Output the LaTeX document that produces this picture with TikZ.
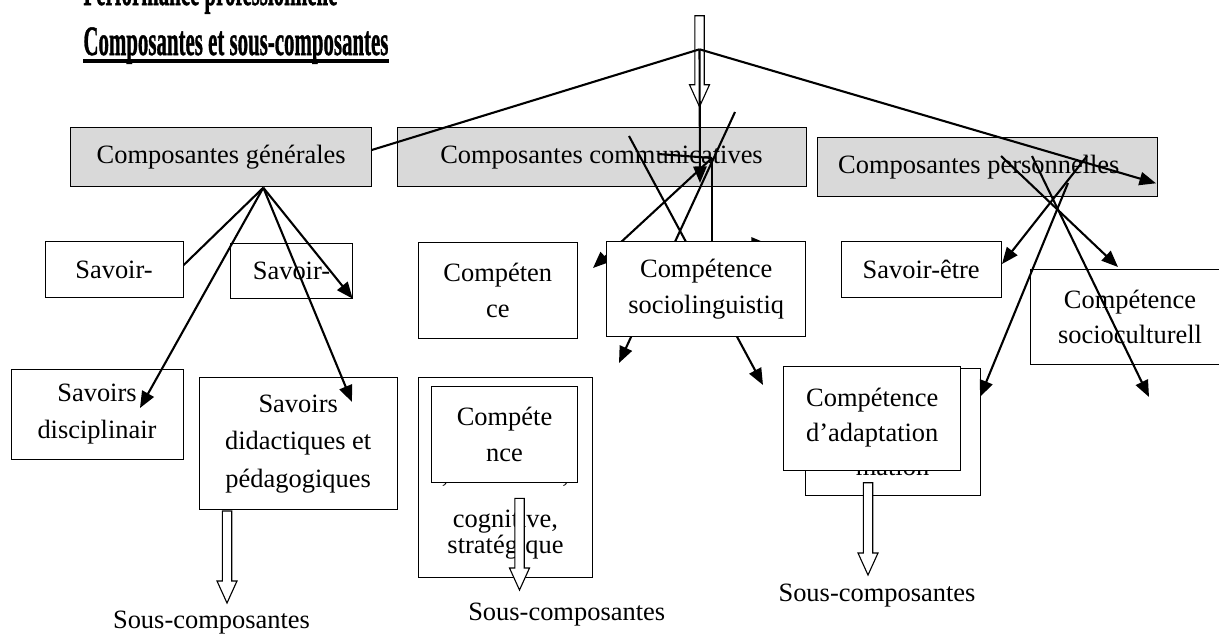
\documentclass[tikz,border=0pt]{standalone}
\usepackage{fontspec}
\setmainfont{Liberation Serif}
\newfontfamily\headfont{Liberation Serif}[FakeBold=1.2]
\usetikzlibrary{arrows.meta, calc}
\newdimen\px \px=0.4537pt
% hollow block arrow from #1 down to tip #2
\newcommand{\hollow}[2]{%
  \draw[hol] ($(#1)+(-4.7,0)$) -- ($(#1)+(4.7,0)$) -- ($(#2)+(4.7,-22)$)
    -- ($(#2)+(10,-22)$) -- (#2) -- ($(#2)+(-10,-22)$)
    -- ($(#2)+(-4.7,-22)$) -- cycle;}

\begin{document}
\begin{tikzpicture}[x=0.4537pt, y=-0.4537pt,
  gbox/.style={draw, fill=gray!30, line width=0.45pt, inner sep=0pt,
    font=\fontsize{12}{16}\selectfont},
  wbox/.style={draw, fill=white, line width=0.45pt, inner sep=0pt,
    align=center, font=\fontsize{12}{16}\selectfont},
  ttl/.style={font=\fontsize{19}{22}\selectfont\headfont\bfseries, anchor=base west,
    inner sep=0pt},
  lbl/.style={font=\fontsize{12}{14}\selectfont, inner sep=0pt, anchor=base},
  arr/.style={-{Triangle[length=7.5pt, width=6pt]}, line width=0.95pt},
  ln/.style={line width=0.95pt},
  hol/.style={draw, fill=white, line width=0.5pt}
]
\useasboundingbox (0,0) rectangle (1219,635);
\clip (0,0) rectangle (1219,635);
% Title
\node[ttl] (perf) at (83,5)
  {\resizebox{254\px}{\height}{Performance professionnelle}};
\node[ttl] (head) at (83,55)
  {\resizebox{305\px}{\height}{Composantes et sous-composantes}};
\draw[line width=1.8pt] ([yshift=-2.8pt]head.base west) -- ([yshift=-2.8pt]head.base east);
% Main components
\node[gbox, minimum width=301*\px, minimum height=59*\px] (gen) at (221.2,157.2)
  {Composantes générales};
\node[gbox, minimum width=409*\px, minimum height=59*\px] (comm) at (601.5,157.2)
  {Composantes communicatives};
\node[gbox, minimum width=340*\px, minimum height=59*\px] (pers) at (987.3,167.2)
  {Composantes personnelles\hspace*{17\px}};
% Free ends
\coordinate (top) at (699.5,49.3);
\coordinate (gfan) at (263.3,187.7);
\coordinate (genE) at (371.7,150);
\coordinate (persE) at (1156,183.3);
\coordinate (commT) at (700,183);
\coordinate (s1in) at (160,288);
\coordinate (cA) at (658,154);
\coordinate (cB) at (712,158);
\coordinate (cC) at (735,112);
\coordinate (cD) at (629,136);
\coordinate (cptR) at (593,268);
\coordinate (slL) at (619,363);
\coordinate (slR) at (763,385);
\coordinate (slE) at (768,244);
% Links running behind the boxes
\draw[arr] (gfan) -- (s1in);
\draw[ln] (cA) -- (cB);
\draw[arr] (cB) -- (cptR);
\draw[arr] (cC) -- (slL);
\draw[arr] (cD) -- (slR);
\draw[arr] (cB) |- (slE);
% Sub-components
\node[wbox, minimum width=138*\px, minimum height=55.6*\px] (sav1) at (114,269.5) {Savoir-};
\node[wbox, minimum width=122.4*\px, minimum height=55.4*\px] (sav2) at (291.5,271) {Savoir-};
\node[wbox, minimum width=172*\px, minimum height=90*\px,
  font=\fontsize{12}{16.5}\selectfont] (disc) at (97,414) {Savoirs\\disciplinair};
\node[wbox, minimum width=198.3*\px, minimum height=132.3*\px,
  font=\fontsize{12}{17}\selectfont] (didac) at (298.2,443.8)
  {Savoirs\\didactiques et\\pédagogiques};
\node[wbox, minimum width=159*\px, minimum height=95.6*\px] (cpt) at (497.8,290.5)
  {Compéten\\ce};
\node[wbox, minimum width=199*\px, minimum height=95*\px] (socling) at (706.2,289.2)
  {Compétence\\sociolinguistiq};
\node[wbox, minimum width=160.3*\px, minimum height=55.6*\px] (savetre) at (921.2,269.5)
  {Savoir-être};
\node[wbox, minimum width=198.6*\px, minimum height=95.3*\px] (soccult) at (1130,316.7)
  {Compétence\\socioculturell};
\node[wbox, minimum width=174.4*\px, minimum height=199.6*\px] (ling) at (505.5,477.5) {};
\node[lbl, align=center, font=\fontsize{12}{11.5}\selectfont] (lingt) at (505.5,553)
  {, discursive,\\[9pt]cognitive,\\stratégique};
\node[wbox, minimum width=145.6*\px, minimum height=95.6*\px,
  font=\fontsize{12}{16.6}\selectfont] (lingin) at (504.5,434.5) {Compéte\\nce};
\node[wbox, minimum width=175*\px, minimum height=126.7*\px] (adback) at (892.5,432.3) {};
\node[lbl] (mation) at (892.5,475) {mation};
\node[wbox, minimum width=176.7*\px, minimum height=104.3*\px,
  font=\fontsize{12}{15.6}\selectfont] (adapt) at (872.3,418.8)
  {Compétence\\d’adaptation\\[-12pt]\mbox{}};
% Sous-composantes
\node[lbl] (sc1) at (211.5,628) {Sous-composantes};
\node[lbl] (sc2) at (566.7,620) {Sous-composantes};
\node[lbl] (sc3) at (877,601.7) {Sous-composantes};
\coordinate (h1a) at (227,511);   \coordinate (h1b) at (227,603);
\coordinate (h2a) at (519.5,498.3); \coordinate (h2b) at (519.5,590);
\coordinate (h3a) at (868,482.7); \coordinate (h3b) at (868,575);
\coordinate (h0a) at (699.5,15.7); \coordinate (h0b) at (699.5,106.7);
\hollow{h0a}{h0b}
\hollow{h1a}{h1b}
\hollow{h2a}{h2b}
\hollow{h3a}{h3b}
% Links on top
\draw[ln] (top) -- (genE);
\draw[arr] (top) -- (persE);
\draw[arr] (top) -- (commT);
\coordinate (sav2c) at (352.7,298.7);
\coordinate (discT) at (140,408);
\coordinate (didT) at (352,402);
\draw[arr] (gfan) -- (sav2c);
\draw[arr] (gfan) -- (discT);
\draw[arr] (gfan) -- (didT);
\coordinate (p1) at (1001,156);  \coordinate (p1e) at (1118,267);
\coordinate (p2) at (1032,156);  \coordinate (p2e) at (1149,397);
\coordinate (p3) at (1087,156);  \coordinate (p3e) at (1002,264);
\coordinate (p4) at (1068,183);  \coordinate (p4e) at (980,397);
\draw[arr] (p1) -- (p1e);
\draw[arr] (p2) -- (p2e);
\draw[arr] (p3) -- (p3e);
\draw[arr] (p4) -- (p4e);
\end{tikzpicture}
\end{document}
